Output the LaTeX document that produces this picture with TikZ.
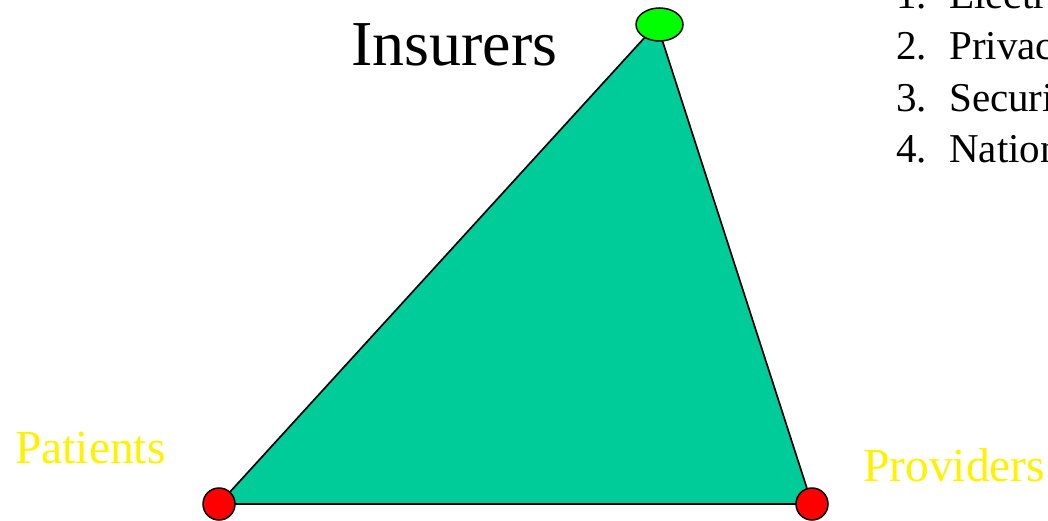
\documentclass[tikz,border=0pt]{standalone}
\usepackage{fontspec}
\setmainfont{Liberation Serif}
\usetikzlibrary{shapes.geometric}
\begin{document}
\begin{tikzpicture}[x=1pt,y=-1pt,
  vertexred/.style={circle,draw=black,line width=1.5pt,fill=red,minimum size=32pt,inner sep=0pt},
  vertexgreen/.style={ellipse,draw=black,line width=1.5pt,fill=green,minimum width=47pt,minimum height=33pt,inner sep=0pt},
  yellowlabel/.style={text=yellow,font=\fontsize{47.5}{52}\selectfont,anchor=base west,inner sep=0pt},
  listitem/.style={font=\fontsize{41}{45}\selectfont,anchor=base west,inner sep=0pt}]
\useasboundingbox (0,0) rectangle (1048,521);
\clip (0,0) rectangle (1048,521);
\coordinate (top) at (657,24);
\coordinate (left) at (219,504);
\coordinate (right) at (812,504);
\fill[fill={rgb,255:red,0;green,204;blue,153}] (top) -- (left) -- (right) -- cycle;
\draw[line width=1.7pt] (top) -- (left) -- (right) -- cycle;
\node[vertexgreen] (ins) at (659.5,24.5) {};
\node[vertexred] (pat) at (219,504) {};
\node[vertexred] (prov) at (812,504) {};
\node[anchor=base west,inner sep=0pt,font=\fontsize{64}{69}\selectfont] (tins) at (351,66) {Insurers};
\node[yellowlabel] (tpat) at (15,463) {Patients};
\node[yellowlabel] (tprov) at (863,481) {Providers};
\node[listitem] (n1) at (896,9) {1.};
\node[listitem] (i1) at (949,9) {Electronic};
\node[listitem] (n2) at (896,60) {2.};
\node[listitem] (i2) at (949,60) {Privacy};
\node[listitem] (n3) at (896,112) {3.};
\node[listitem] (i3) at (949,112) {Security};
\node[listitem] (n4) at (896,163) {4.};
\node[listitem] (i4) at (949,163) {National};
\end{tikzpicture}
\end{document}
